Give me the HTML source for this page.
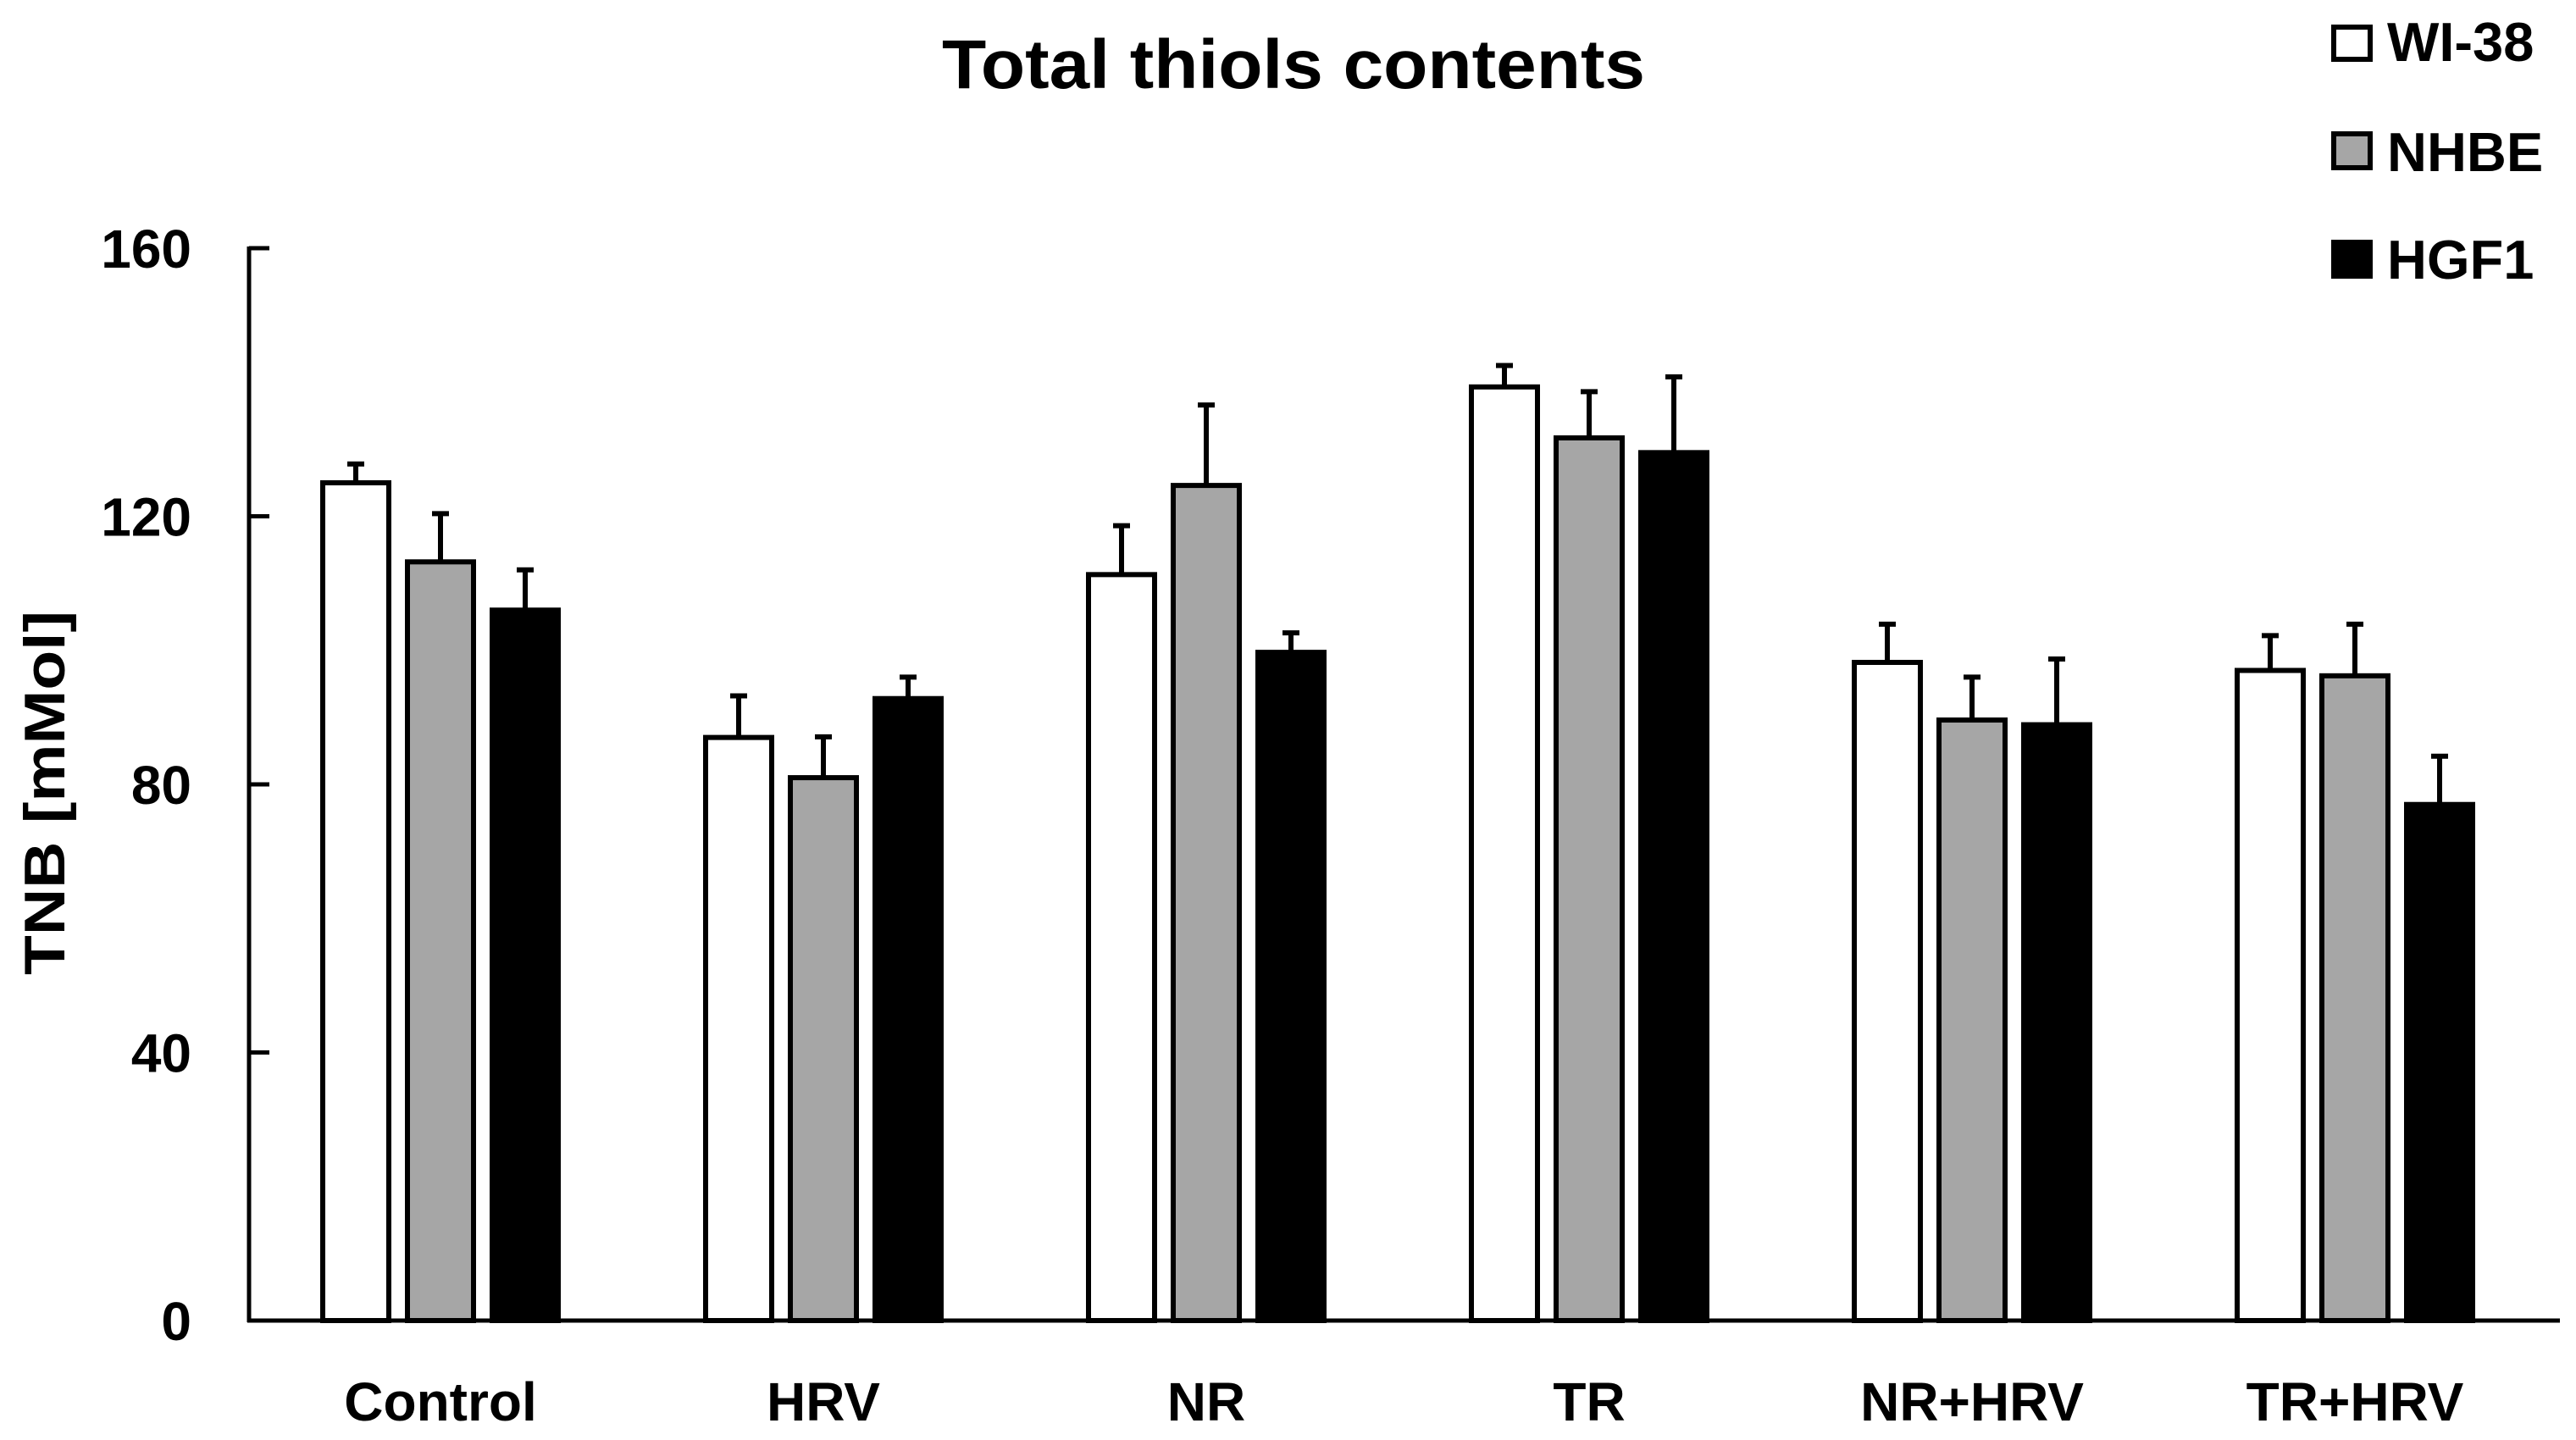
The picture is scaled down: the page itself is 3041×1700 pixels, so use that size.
<!DOCTYPE html>
<html><head><meta charset="utf-8"><style>
html,body{margin:0;padding:0;background:#fff;}
svg{display:block;font-family:"Liberation Sans",sans-serif;font-weight:bold;}
</style></head><body>
<svg id="chart" width="3041" height="1700" viewBox="0 0 3041 1700">
<text x="1527" y="104" font-size="82" text-anchor="middle" textLength="830" lengthAdjust="spacingAndGlyphs">Total thiols contents</text>
<g id="axes"></g><g id="bars"></g>
<g>
 <g><rect x="2755" y="32" width="43" height="38" fill="#fff" stroke="#000" stroke-width="6"/><text x="2818" y="72" font-size="65">WI-38</text></g>
 <g><rect x="2755" y="158" width="43" height="40" fill="#a6a6a6" stroke="#000" stroke-width="6"/><text x="2818" y="202" font-size="65">NHBE</text></g>
 <g><rect x="2752" y="283" width="49" height="46" fill="#000"/><text x="2818" y="329" font-size="65">HGF1</text></g>
</g>
<text transform="translate(76,936) rotate(-90)" font-size="68" text-anchor="middle" textLength="430" lengthAdjust="spacingAndGlyphs">TNB [mMol]</text>
</svg>
<script>
const categories=["Control","HRV","NR","TR","NR+HRV","TR+HRV"];
const seriesNames=["WI-38","NHBE","HGF1"];
const wi38=[125,87,111.3,139.3,98.2,97];
const nhbe=[113.2,81,124.6,131.7,89.6,96.2];
const hgf1=[106,92.8,99.7,129.5,88.9,77];
const wi38Err=[2.8,6.2,7.3,3.2,5.7,5.2];
const nhbeErr=[7.2,6.1,12,6.9,6.4,7.7];
const hgf1Err=[6,3.2,2.9,11.3,9.8,7.2];
const yTicks=[0,40,80,120,160];
const NS="http://www.w3.org/2000/svg";
const axes=document.getElementById('axes'), bars=document.getElementById('bars');
const y0=1559,y160=293;
function yS(v){return y0-(v/160)*(y0-y160);}
function xS(i,s){return 520+i*452+(s-1)*100;}
function mk(tag,attrs,parent){const e=document.createElementNS(NS,tag);for(const k in attrs)e.setAttribute(k,attrs[k]);parent.appendChild(e);return e;}
let l=mk('line',{x1:294,y1:y160-2,x2:294,y2:y0+2,stroke:'#000','stroke-width':5},axes);


l=mk('line',{x1:292,y1:y0,x2:3022,y2:y0,stroke:'#000','stroke-width':5},axes);


yTicks.forEach(v=>{
 const t=mk('line',{x1:294,y1:yS(v),x2:318,y2:yS(v),stroke:'#000','stroke-width':5},axes);
 
 
 const tx=mk('text',{x:226,y:yS(v)+23,'font-size':64,'text-anchor':'end'},axes);
 tx.textContent=v;
 
 
});
const vals=[wi38,nhbe,hgf1],errs=[wi38Err,nhbeErr,hgf1Err],fills=['#fff','#a6a6a6','#000'];
categories.forEach((c,i)=>{
 const tx=mk('text',{x:xS(i,1),y:1677,'font-size':64,'text-anchor':'middle'},axes);
 tx.textContent=c;
 
 
 for(let s=0;s<3;s++){
  const cx=xS(i,s),v=vals[s][i],e=errs[s][i];
  const eb=mk('path',{d:`M${cx} ${yS(v)} V${yS(v+e)} M${cx-10} ${yS(v+e)} H${cx+10}`,stroke:'#000','stroke-width':6,fill:'none'},bars);
  
  
  const r=mk('rect',{x:cx-39,y:yS(v),width:78,height:y0-yS(v),fill:fills[s],stroke:'#000','stroke-width':6},bars);
  
  
 }
});
</script>
</body></html>
